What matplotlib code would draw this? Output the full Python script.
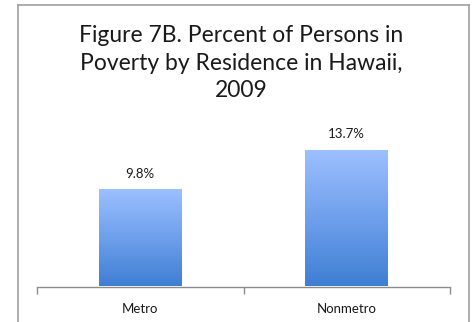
import matplotlib
matplotlib.use("Agg")
import matplotlib.pyplot as plt
import numpy as np
from matplotlib.colors import LinearSegmentedColormap
from matplotlib.lines import Line2D

categories = ["Metro", "Nonmetro"]
values = [9.8, 13.7]
value_labels = ["9.8%", "13.7%"]
title = "Figure 7B. Percent of Persons in\nPoverty by Residence in Hawaii,\n2009"

W, H = 474, 322
fig = plt.figure(figsize=(W / 100, H / 100), dpi=100)
fig.patch.set_facecolor("white")

# outer chart frame (open at the bottom)
frame_kw = dict(color="#a0a0a0", linewidth=1.2, transform=fig.transFigure)
x0, x1, yt = 17.5 / W, 469 / W, 1 - 4.5 / H
fig.add_artist(Line2D([x0, x0], [0, yt], **frame_kw))
fig.add_artist(Line2D([x1, x1], [0, yt], **frame_kw))
fig.add_artist(Line2D([x0, x1], [yt, yt], **frame_kw))

fig.text(0.508, 1 - 63 / H, title, ha="center", va="center",
         fontsize=16.5, family="Lato", linespacing=1.36, color="#1a1a1a")

ax = fig.add_axes([37 / W, (H - 286.5) / H, 413 / W, 200 / H])
ax.set_xlim(-0.5, 1.5)
ax.set_ylim(0, 20)
for s in ["top", "right", "left"]:
    ax.spines[s].set_visible(False)
ax.spines["bottom"].set_color("#8c8c8c")
ax.spines["bottom"].set_linewidth(1.0)
ax.set_yticks([])
ax.set_xticks([-0.5, 0.5, 1.5])
ax.set_xticklabels([])
ax.tick_params(axis="x", length=5, color="#8c8c8c", width=1.0, direction="out")
ax.set_xticks([0, 1], minor=True)
ax.set_xticklabels(categories, minor=True, fontsize=9.5, family="Lato", color="#1a1a1a")
ax.tick_params(axis="x", which="minor", length=0, pad=12)

cmap = LinearSegmentedColormap.from_list("barfill", ["#3f7ed3", "#6fa0ec", "#9dc0ff"])
grad = np.linspace(0, 1, 256).reshape(-1, 1)
bars = ax.bar(range(len(categories)), values, width=0.4, color="none", edgecolor="none")
for bar, lab in zip(bars, value_labels):
    bx, bw, bh = bar.get_x(), bar.get_width(), bar.get_height()
    im = ax.imshow(grad, extent=[bx, bx + bw, 0, bh], origin="lower", cmap=cmap,
                   aspect="auto", zorder=2)
    im.set_clip_path(bar)
    ax.text(bx + bw / 2, bh + 0.9, lab, ha="center", va="bottom",
            fontsize=9.5, family="Lato", color="#1a1a1a")
ax.set_xlim(-0.5, 1.5)
ax.set_ylim(0, 20)

fig.savefig("out.png", dpi=100)
